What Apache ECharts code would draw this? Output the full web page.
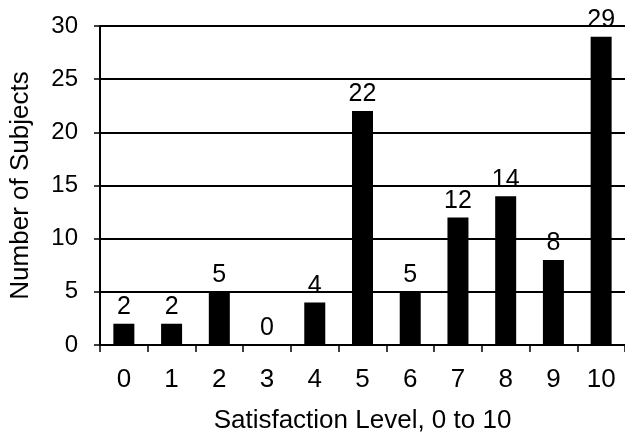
<!DOCTYPE html>
<html>
<head>
<meta charset="utf-8">
<style>
html,body{margin:0;padding:0;background:#fff;}
#c{width:625px;height:439px;}
</style>
<script src="https://cdn.jsdelivr.net/npm/echarts@6/dist/echarts.min.js"></script>
</head>
<body>
<div id="c"></div>
<script>
var categories = ['0','1','2','3','4','5','6','7','8','9','10'];
var subjects = [2, 2, 5, 0, 4, 22, 5, 12, 14, 8, 29];
var yTicks = [0, 5, 10, 15, 20, 25, 30];

var chart = echarts.init(document.getElementById('c'), null, {renderer: 'canvas'});
var font = 'Liberation Sans, Arial, sans-serif';
chart.setOption({
  animation: false,
  backgroundColor: '#fff',
  grid: {left: 99, right: -2, top: 26, bottom: 91, containLabel: false},
  xAxis: {
    type: 'category',
    data: categories,
    boundaryGap: true,
    name: 'Satisfaction Level, 0 to 10',
    nameLocation: 'middle',
    nameGap: 63,
    nameTextStyle: {fontFamily: font, fontSize: 26, color: '#000'},
    axisLine: {lineStyle: {color: '#000', width: 2}},
    axisTick: {show: true, alignWithLabel: false, length: 7, lineStyle: {color: '#000', width: 1.5}},
    axisLabel: {fontFamily: font, fontSize: 26, color: '#000', margin: 22},
    splitLine: {show: false}
  },
  yAxis: {
    type: 'value',
    min: yTicks[0],
    max: yTicks[yTicks.length - 1],
    interval: 5,
    name: 'Number of Subjects',
    nameLocation: 'middle',
    nameGap: 66,
    nameRotate: 90,
    nameTextStyle: {fontFamily: font, fontSize: 26, color: '#000'},
    axisLine: {show: true, lineStyle: {color: '#000', width: 2}},
    axisTick: {show: true, length: 6, lineStyle: {color: '#000', width: 1.5}},
    axisLabel: {fontFamily: font, fontSize: 24, color: '#000', margin: 22},
    splitLine: {show: true, lineStyle: {color: '#000', width: 2}}
  },
  series: [{
    type: 'bar',
    data: subjects,
    barWidth: 21,
    itemStyle: {color: '#000'},
    label: {show: true, position: 'top', distance: 4, fontFamily: font, fontSize: 25, color: '#000'}
  }]
});
</script>
</body>
</html>
